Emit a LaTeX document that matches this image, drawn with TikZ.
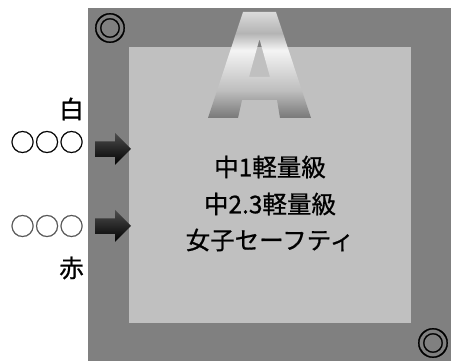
\documentclass[tikz,border=0pt]{standalone}
\usepackage{fontspec}
\setmainfont{Noto Sans CJK JP}[FakeBold=0.8]
\definecolor{darkbg}{HTML}{808080}
\definecolor{lightbg}{HTML}{C0C0C0}
\definecolor{agray1}{HTML}{DADADA}
\definecolor{agray2}{HTML}{B4B4B4}
\definecolor{agray3}{HTML}{F4F4F4}
\definecolor{agray4}{HTML}{BEBEBE}
\definecolor{agray5}{HTML}{787878}
\definecolor{redcirc}{HTML}{555555}
\pgfdeclareverticalshading{ashade}{100bp}{color(0bp)=(agray5); color(25bp)=(agray5); color(38bp)=(agray4); color(57bp)=(agray3); color(65bp)=(agray2); color(75bp)=(agray1); color(100bp)=(agray1)}
\tikzset{
  lbl/.style={font=\fontsize{24.5pt}{28pt}\selectfont, inner sep=0pt, anchor=east},
  main/.style={font=\fontsize{24.5pt}{28pt}\selectfont, inner sep=0pt},
  dmark/.style={font=\fontsize{33pt}{36pt}\selectfont, inner sep=0pt},
  blockarrow/.style={top color=gray!60!black, bottom color=black, draw=none}
}
\begin{document}
\begin{tikzpicture}[x=1pt,y=-1pt]
\useasboundingbox (0,0) rectangle (451,361);
% frames
\fill[darkbg] (88,8) rectangle (451,361);
\fill[lightbg] (129,47) rectangle (411,323);
% letter A
\path[shading=ashade, even odd rule]
  (243,12) -- (276,12) -- (311,118) -- (280,118) -- (277,100) -- (242,100) -- (238,118) -- (208,118) -- cycle
  (259.5,39) -- (270,77) -- (249,77) -- cycle;
% corner marks
\node[dmark] (tl) at (110,28) {◎};
\node[dmark] (br) at (433,343) {◎};
% arrows
\path[blockarrow] (95,141.5) -- (115,141.5) -- (115,133) -- (131,149) -- (115,165) -- (115,157) -- (95,157) -- cycle;
\path[blockarrow] (95,218.5) -- (115,218.5) -- (115,210) -- (131,226) -- (115,242) -- (115,234) -- (95,234) -- cycle;
% left labels
\node[lbl] (white) at (84,109) {白};
\node[lbl] (wcirc) at (84,142) {○○○};
\node[lbl, text=redcirc] (rcirc) at (84,226) {○○○};
\node[lbl] (red) at (84,268) {赤};
% main text
\node[main] (l1) at (270,167) {中1軽量級};
\node[main] (l2) at (270,204) {中2.3軽量級};
\node[main] (l3) at (270,240) {女子セーフティ};
\end{tikzpicture}
\end{document}
